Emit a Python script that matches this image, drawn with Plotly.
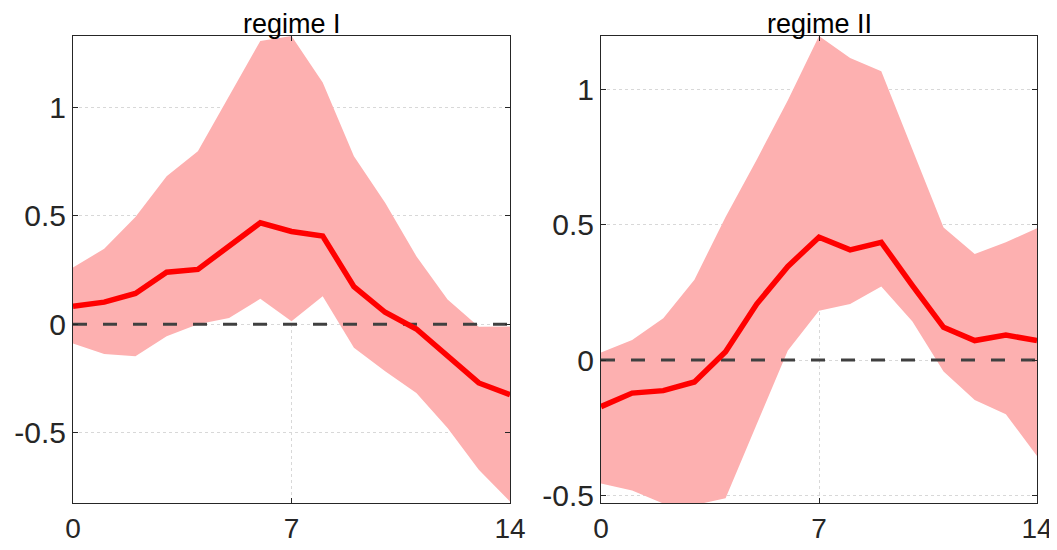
import plotly.graph_objects as go
from plotly.subplots import make_subplots

steps = list(range(15))

# regime I
mean_1 = [0.083, 0.102, 0.142, 0.240, 0.253, 0.360, 0.468, 0.428, 0.407,
          0.173, 0.055, -0.022, -0.145, -0.271, -0.325]
upper_1 = [0.262, 0.348, 0.495, 0.683, 0.798, 1.055, 1.307, 1.33, 1.115,
           0.775, 0.56, 0.314, 0.114, -0.012, -0.010]
lower_1 = [-0.089, -0.137, -0.148, -0.055, 0.0, 0.029, 0.117, 0.014, 0.129,
           -0.109, -0.217, -0.317, -0.479, -0.672, -0.818]

# regime II
mean_2 = [-0.172, -0.122, -0.113, -0.081, 0.031, 0.207, 0.346, 0.454, 0.407,
          0.435, 0.275, 0.121, 0.072, 0.092, 0.072]
upper_2 = [0.028, 0.074, 0.154, 0.297, 0.528, 0.74, 0.96, 1.197, 1.116,
           1.067, 0.778, 0.49, 0.392, 0.435, 0.487]
lower_2 = [-0.456, -0.482, -0.53, -0.536, -0.51, -0.237, 0.035, 0.182, 0.207,
           0.272, 0.142, -0.042, -0.148, -0.2, -0.354]

titles = ["regime I", "regime II"]
y_ranges = [[-0.825, 1.33], [-0.528, 1.197]]
x_ticks = [0, 7, 14]
y_ticks = [-0.5, 0, 0.5, 1]

BAND = "rgb(253,176,176)"
AXIS = "#262626"
FONT = "Liberation Sans, Arial, sans-serif"

# page body has an 8px margin, so the figure is sized to fill the window
W, H, PAD = 1049, 542, 8

fig = make_subplots(rows=1, cols=2)

panels = [(mean_1, upper_1, lower_1), (mean_2, upper_2, lower_2)]
for i, (mean, upper, lower) in enumerate(panels, start=1):
    fig.add_trace(go.Scatter(
        x=steps + steps[::-1], y=upper + lower[::-1],
        fill="toself", fillcolor=BAND, line=dict(width=0),
        mode="lines", hoverinfo="skip", showlegend=False,
    ), row=1, col=i)
    fig.add_trace(go.Scatter(
        x=steps, y=[0] * len(steps), mode="lines",
        line=dict(color="#404040", width=3, dash="14px,16px"),
        showlegend=False,
    ), row=1, col=i)
    fig.add_trace(go.Scatter(
        x=steps, y=mean, mode="lines",
        line=dict(color="#ff0000", width=5.5),
        showlegend=False,
    ), row=1, col=i)

axis_common = dict(
    showline=True, linecolor=AXIS, linewidth=1, mirror="ticks",
    ticks="inside", ticklen=5, tickcolor=AXIS,
    showgrid=True, gridcolor="#d8d8d8", griddash="dot", gridwidth=1,
    zeroline=False, automargin=False,
)

fig.update_xaxes(range=[0, 14], tickvals=x_ticks,
                 tickfont=dict(family=FONT, size=28, color=AXIS),
                 **axis_common)
fig.update_yaxes(tickvals=y_ticks, ticktext=["-0.5", "0", "0.5", "1"],
                 tickfont=dict(family=FONT, size=30, color=AXIS),
                 **axis_common)
fig.update_xaxes(domain=[(73 - PAD) / W, (510 - PAD) / W], row=1, col=1)
fig.update_xaxes(domain=[(601 - PAD) / W, (1037 - PAD) / W], row=1, col=2)
for i, rng in enumerate(y_ranges, start=1):
    fig.update_yaxes(range=rng,
                     domain=[1 - (503 - PAD) / H, 1 - (36 - PAD) / H],
                     row=1, col=i)
    fig.add_annotation(
        text=titles[i - 1], x=7, y=1, xref=f"x{'' if i == 1 else i}",
        yref=f"y{'' if i == 1 else i} domain", yanchor="bottom",
        yshift=-5, showarrow=False,
        font=dict(family=FONT, size=27, color="#000000"),
    )

fig.update_layout(
    width=W, height=H,
    margin=dict(l=0, r=0, t=0, b=0),
    plot_bgcolor="white", paper_bgcolor="white",
)

fig.write_html("out.html")
